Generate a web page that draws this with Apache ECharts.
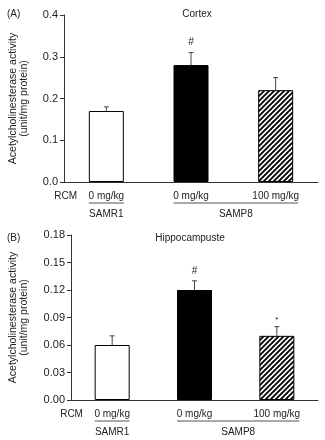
<!DOCTYPE html>
<html>
<head>
<meta charset="utf-8">
<script src="https://cdn.jsdelivr.net/npm/echarts@6/dist/echarts.min.js"></script>
<style>
  html, body { margin: 0; padding: 0; background: #fff; }
  #main { width: 325px; height: 440px; }
</style>
</head>
<body>
<div id="main"></div>
<script>
// 数据
const doses = ['0 mg/kg', '0 mg/kg', '100 mg/kg'];
const cortexValues = [0.17, 0.28, 0.22];
const cortexErrors = [0.01, 0.03, 0.03];
const cortexMarks = ['', '#', ''];
const hippoValues = [0.06, 0.12, 0.07];
const hippoErrors = [0.01, 0.01, 0.01];
const hippoMarks = ['', '#', '*'];
const cortexAxis = [0, 0.4, 0.1];   // min, max, interval
const hippoAxis = [0, 0.18, 0.03];
const groups = [
  { name: 'SAMR1', from: 0, to: 0 },
  { name: 'SAMP8', from: 1, to: 2 }
];

const font = 'Liberation Sans, Arial, sans-serif';
const ink = '#222';

//斜线填充
function hatch() {
  const s = 5;
  const c = document.createElement('canvas');
  c.width = s; c.height = s;
  const ctx = c.getContext('2d');
  ctx.fillStyle = '#fff';
  ctx.fillRect(0, 0, s, s);
  ctx.strokeStyle = '#000';
  ctx.lineWidth = 1.9;
  ctx.beginPath();
  ctx.moveTo(-1, 1); ctx.lineTo(1, -1);
  ctx.moveTo(0, s); ctx.lineTo(s, 0);
  ctx.moveTo(s - 1, s + 1); ctx.lineTo(s + 1, s - 1);
  ctx.stroke();
  return c;
}
const barFills = ['#fff', '#000', { image: hatch(), repeat: 'repeat' }];

function yAxisOf(idx, range, digits, gap) {
  return {
    gridIndex: idx,
    type: 'value',
    min: range[0], max: range[1], interval: range[2],
    name: 'Acetylcholinesterase activity\n(unit/mg protein)',
    nameLocation: 'middle',
    nameGap: gap,
    nameTextStyle: { color: ink, fontSize: 10.5, fontFamily: font, lineHeight: 11 },
    axisLine: { show: true, lineStyle: { color: '#333', width: 1 } },
    axisTick: { show: true, length: 4, lineStyle: { color: '#333' } },
    splitLine: { show: false },
    axisLabel: { color: ink, fontSize: 11, fontFamily: font, margin: 6,
      formatter: v => v.toFixed(digits) }
  };
}

function xAxisOf(idx) {
  return {
    gridIndex: idx,
    type: 'category',
    data: doses,
    axisLine: { lineStyle: { color: '#333', width: 1 } },
    axisTick: { inside: true, length: 3, lineStyle: { color: '#333' } },
    axisLabel: { color: ink, fontSize: 10, fontFamily: font, margin: 9 }
  };
}

function barsOf(idx, values) {
  return {
    type: 'bar',
    xAxisIndex: idx, yAxisIndex: idx,
    barWidth: 35,
    data: values.map((v, i) => ({
      value: v,
      itemStyle: { color: barFills[i], borderColor: '#000', borderWidth: 1 }
    })),
    silent: true
  };
}

//误差线和显著性标记
function errorsOf(idx, values, errors, marks) {
  return {
    type: 'custom',
    xAxisIndex: idx, yAxisIndex: idx,
    z: 5,
    silent: true,
    data: values.map((v, i) => [i, v, errors[i]]),
    renderItem: (params, api) => {
      const x = api.value(0), v = api.value(1), e = api.value(2);
      const base = api.coord([x, v]);
      const top = api.coord([x, v + e]);
      const style = { stroke: '#444', lineWidth: 1 };
      const children = [
        { type: 'line', shape: { x1: base[0], y1: base[1], x2: top[0], y2: top[1] }, style },
        { type: 'line', shape: { x1: top[0] - 2.5, y1: top[1], x2: top[0] + 2.5, y2: top[1] }, style }
      ];
      const m = marks[params.dataIndex];
      if (m) {
        children.push({
          type: 'text',
          style: { text: m, x: top[0], y: top[1] - (m === '*' ? 7 : 10),
            align: 'center', verticalAlign: 'middle',
            fill: ink, fontSize: m === '*' ? 8 : 10, fontFamily: font }
        });
      }
      return { type: 'group', children };
    }
  };
}

const chart = echarts.init(document.getElementById('main'));
chart.setOption({
  animation: false,
  backgroundColor: '#fff',
  title: [
    { text: 'Cortex', left: 192, top: 4, textAlign: 'center',
      textStyle: { color: ink, fontSize: 10, fontWeight: 'normal', fontFamily: font } },
    { text: '(A)', left: 2, top: 4,
      textStyle: { color: ink, fontSize: 10, fontWeight: 'normal', fontFamily: font } },
    { text: 'Hippocampuste', left: 185, top: 228, textAlign: 'center',
      textStyle: { color: ink, fontSize: 10, fontWeight: 'normal', fontFamily: font } },
    { text: '(B)', left: 2, top: 228,
      textStyle: { color: ink, fontSize: 10, fontWeight: 'normal', fontFamily: font } }
  ],
  grid: [
    { left: 61, right: 7, top: 15, height: 167 },
    { left: 68, right: 7, top: 235, height: 165 }
  ],
  xAxis: [xAxisOf(0), xAxisOf(1)],
  yAxis: [yAxisOf(0, cortexAxis, 1, 34), yAxisOf(1, hippoAxis, 2, 41)],
  series: [
    barsOf(0, cortexValues),
    errorsOf(0, cortexValues, cortexErrors, cortexMarks),
    barsOf(1, hippoValues),
    errorsOf(1, hippoValues, hippoErrors, hippoMarks)
  ]
});

//RCM、分组下划线及名称
const graphic = [];
[0, 1].forEach(idx => {
  const axisY = chart.convertToPixel({ yAxisIndex: idx }, 0);
  const x0 = chart.convertToPixel({ xAxisIndex: idx }, 0);
  graphic.push({
    type: 'text', x: x0 - 52, y: axisY + 14,
    style: { text: 'RCM', fill: ink, fontSize: 10, fontFamily: font, align: 'left', verticalAlign: 'middle' }
  });
  groups.forEach(g => {
    const a = chart.convertToPixel({ xAxisIndex: idx }, g.from) - 17.5;
    const b = chart.convertToPixel({ xAxisIndex: idx }, g.to) + 17.5 + (g.to > g.from ? 5 : 0);
    graphic.push({
      type: 'line', shape: { x1: a, y1: axisY + 21, x2: b, y2: axisY + 21 },
      style: { stroke: '#555', lineWidth: 1 }
    });
    graphic.push({
      type: 'text', x: (a + b) / 2, y: axisY + 32,
      style: { text: g.name, fill: ink, fontSize: 10, fontFamily: font, align: 'center', verticalAlign: 'middle' }
    });
  });
});
chart.setOption({ graphic });
</script>
</body>
</html>
